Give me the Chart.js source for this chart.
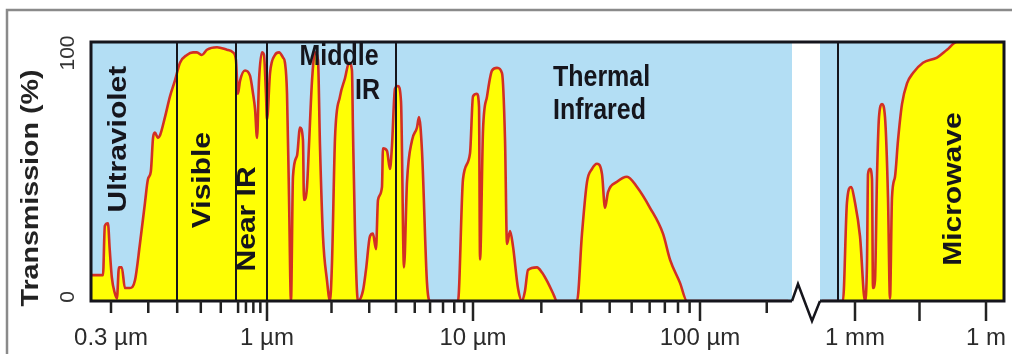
<!DOCTYPE html>
<html><head><meta charset="utf-8">
<script src="https://cdn.jsdelivr.net/npm/chart.js@4.4.1/dist/chart.umd.min.js"></script>
<style>html,body{margin:0;padding:0;background:#fff;}canvas{display:block;}</style>
</head><body>
<canvas id="c" width="1012" height="354"></canvas>
<script>
// ---------- data (wavelength in µm, transmission in %) ----------
const WAVELENGTH_UM = [
  0.257,0.282,0.286,0.293,0.297,0.302,0.309,0.314,0.319,0.326,0.334,0.347,0.361,0.375,0.390,0.399,0.408,0.415,0.421,0.431,
  0.438,0.455,0.473,0.491,0.511,0.539,0.565,0.582,0.605,0.629,0.680,0.734,0.769,0.787,0.799,0.812,0.844,0.877,0.898,0.912,
  0.926,0.940,0.962,0.977,0.992,1.000,1.033,1.090,1.138,1.188,1.213,1.240,1.267,1.294,1.322,1.380,1.426,1.472,1.488,1.537,
  1.570,1.622,1.675,1.730,1.767,1.825,1.905,1.968,2.011,2.077,2.191,2.312,2.414,2.492,2.519,2.574,2.658,2.805,2.897,3.024,
  3.123,3.226,3.296,3.440,3.478,3.631,3.750,3.831,3.956,4.098,4.246,4.399,4.559,4.838,5.135,5.258,5.449,5.784,5.995,8.364,
  8.878,9.650,10.0,10.41,10.63,10.74,11.07,11.53,12.13,12.76,13.42,13.84,14.12,14.56,15.01,15.78,16.44,16.95,17.47,19.13,
  20.14,21.40,22.51,23.44,28.72,30.21,31.79,33.44,35.18,37.01,38.15,39.33,43.09,47.70,52.78,60.22,68.71,73.77,81.64,87.64,
  250,300,
  441,742,819,904,1000,1302,1694,1883,1985,2206,2451,2584,2871,3190,3544,4153,4864,5697,6330,7036,
  8241,9654,11920,15520,21290,36070,75500,127900,216600,2580000
];
const TRANSMISSION_PCT = [
  10,10,29,30,20,9,3,1,13,13,5,5,8,22,38,47,50,63,65,63,
  64,71,79,85,92,95,96,96,95,97,98,97,96,93,80,85,89,87,80,74,
  63,85,96,95,80,70,88,95,96,94,92,80,40,0,48,56,67,62,39,44,
  60,85,96,93,60,25,8,0,15,63,79,86,92,89,66,27,0,4,12,25,
  26,20,39,44,59,58,51,60,82,83,77,13,46,62,67,71,58,7,0,0,
  47,57,79,80,75,16,66,79,89,90,88,62,22,27,21,5,0,4,12,13,
  11,7,3,0,0,26,46,51,53,49,36,42,46,48,44,36,26,16,7,0,
  0,null,
  0,0,38,44,38,25,0,15,49,51,47,5,8,48,71,76,71,40,1,40,
  48,62,76,84,88,92,94,97,100,100
];

// spectral bands
const BAND_EDGES_UM = [0.5, 0.787, 1, 4, 650];
const BAND_LABELS = ['Ultraviolet', 'Visible', 'Near IR', 'Middle', 'IR', 'Thermal', 'Infrared', 'Microwave'];
const BAND_LABEL_AT_UM = [0.319, 0.610, 0.863, 2.17, 3.37, 22.5, 22.5, 185000];
const BAND_LABEL_AT_PCT = [62.5, 46.7, 31.7, 94.2, 81, 86.1, 73.4, 43.2];

// axis ticks
const X_TICK_UM = [0.3, 1, 10, 100, 1000, 1e6];
const X_TICK_LABELS = ['0.3 µm', '1 µm', '10 µm', '100 µm', '1 mm', '1 m'];
const X_LONG_TICK_UM = [1, 10, 100, 1000, 30000, 1e6];
const X_SHORT_TICK_UM = [0.3, 0.4, 0.5, 0.6, 0.7, 0.8, 0.85, 0.9, 0.95, 2, 3, 4, 5, 6, 7, 8, 9,
                         20, 30, 40, 50, 60, 70, 80, 90, 200];
const Y_TICKS = [0, 100];
const Y_TICK_LABELS = ['0', '100'];

// ---------- broken, hand-stretched log axis (scale definition) ----------
const AXIS_ANCHOR_UM  = [0.257, 0.3, 1, 4, 10, 100, 260, 420, 1000, 1e6, 2.58e6];
const AXIS_ANCHOR_POS = [0, 20, 176, 305, 382, 609, 701, 729, 764, 895, 913];
const AXIS_BREAK_UM = [260, 420];
function axisPos(um) {
  const l = Math.log10(um);
  const L = AXIS_ANCHOR_UM.map(Math.log10);
  let i = 0;
  while (i < L.length - 2 && l > L[i + 1]) i++;
  const t = (l - L[i]) / (L[i + 1] - L[i]);
  return AXIS_ANCHOR_POS[i] + t * (AXIS_ANCHOR_POS[i + 1] - AXIS_ANCHOR_POS[i]);
}

const BLUE = '#b3def4', YELLOW = '#ffff05', RED = '#d22f25', INK = '#15151c';
const FONT = "'Liberation Sans', Arial, sans-serif";

const points = WAVELENGTH_UM.map((w, i) => ({ x: axisPos(w), y: TRANSMISSION_PCT[i] }));

function drawText(ctx, text, x, y, opt) {
  ctx.save();
  ctx.translate(x, y);
  if (opt.rotate) ctx.rotate(-Math.PI / 2);
  ctx.font = opt.font;
  let sx = opt.sx || 1, sy = opt.sy || 1;
  if (opt.fitLength) sx = opt.fitLength / ctx.measureText(text).width;
  ctx.scale(sx, sy);
  ctx.fillStyle = opt.color || INK;
  ctx.textAlign = opt.align || 'center';
  ctx.textBaseline = 'middle';
  ctx.fillText(text, 0, 0);
  ctx.restore();
}

const spectrumPlugin = {
  id: 'spectrum',
  beforeDatasetsDraw(chart) {
    const { ctx, chartArea: a, scales: { x } } = chart;
    ctx.save();
    ctx.fillStyle = BLUE;
    ctx.fillRect(a.left, a.top, a.right - a.left, a.bottom - a.top);
    const g0 = x.getPixelForValue(axisPos(AXIS_BREAK_UM[0]));
    const g1 = x.getPixelForValue(axisPos(AXIS_BREAK_UM[1]));
    ctx.fillStyle = '#ffffff';
    ctx.fillRect(g0, a.top, g1 - g0, a.bottom - a.top);
    ctx.restore();
  },
  afterDatasetsDraw(chart) {
    const { ctx, chartArea: a, scales: { x, y } } = chart;
    ctx.save();
    // band edges
    ctx.strokeStyle = INK; ctx.lineWidth = 2;
    BAND_EDGES_UM.forEach(w => {
      const px = Math.round(x.getPixelForValue(axisPos(w)));
      ctx.beginPath(); ctx.moveTo(px, a.top); ctx.lineTo(px, a.bottom); ctx.stroke();
    });
    // frame with axis break
    const g0 = x.getPixelForValue(axisPos(AXIS_BREAK_UM[0]));
    const g1 = x.getPixelForValue(axisPos(AXIS_BREAK_UM[1]));
    ctx.lineWidth = 3; ctx.lineJoin = 'miter';
    ctx.beginPath();
    ctx.moveTo(g0, a.bottom); ctx.lineTo(a.left, a.bottom); ctx.lineTo(a.left, a.top);
    ctx.lineTo(a.right, a.top); ctx.lineTo(a.right, a.bottom); ctx.lineTo(g1, a.bottom);
    ctx.stroke();
    ctx.lineWidth = 2.5;
    ctx.beginPath();
    ctx.moveTo(g0, a.bottom); ctx.lineTo(g0 + 6, a.bottom - 17);
    ctx.lineTo(g0 + 20, a.bottom + 20); ctx.lineTo(g1, a.bottom);
    ctx.stroke();
    // tick marks
    ctx.lineWidth = 2.5; ctx.strokeStyle = '#222';
    const tick = (w, len) => {
      const px = x.getPixelForValue(axisPos(w));
      ctx.beginPath(); ctx.moveTo(px, a.bottom); ctx.lineTo(px, a.bottom + len); ctx.stroke();
    };
    X_SHORT_TICK_UM.forEach(w => tick(w, 12));
    X_LONG_TICK_UM.forEach(w => tick(w, 20));
    // band labels
    BAND_LABELS.forEach((t, i) => {
      const px = x.getPixelForValue(axisPos(BAND_LABEL_AT_UM[i]));
      const py = y.getPixelForValue(BAND_LABEL_AT_PCT[i]);
      const vertical = ['Ultraviolet', 'Visible', 'Near IR', 'Microwave'].includes(t);
      const align = t === 'IR' ? 'right' : (t === 'Thermal' || t === 'Infrared') ? 'left' : 'center';
      drawText(ctx, t, px, py, vertical
        ? { rotate: true, font: 'bold 25px ' + FONT, sx: 1.2, align }
        : { font: 'bold 25px ' + FONT, sy: 1.2, align });
    });
    ctx.restore();
  },
  afterDraw(chart) {
    const { ctx, scales: { y } } = chart;
    ctx.save();
    // y tick labels (rotated)
    Y_TICKS.forEach((v, i) => {
      const py = y.getPixelForValue(v) + (v === 100 ? 11 : -4);
      drawText(ctx, Y_TICK_LABELS[i], 68, py, { rotate: true, font: '21px ' + FONT, color: '#333' });
    });
    // y title
    drawText(ctx, 'Transmission (%)', 32, 188, { rotate: true, font: 'bold 23px ' + FONT, fitLength: 237, color: '#222' });
    // outer picture border
    ctx.strokeStyle = '#8a8a8a'; ctx.lineWidth = 2.5;
    ctx.beginPath(); ctx.moveTo(7, 360); ctx.lineTo(7, 10); ctx.lineTo(1020, 10); ctx.stroke();
    ctx.restore();
  }
};

new Chart(document.getElementById('c').getContext('2d'), {
  type: 'line',
  data: {
    datasets: [{
      data: points,
      borderColor: RED,
      backgroundColor: YELLOW,
      borderWidth: 2.6,
      fill: 'origin',
      pointRadius: 0,
      cubicInterpolationMode: 'monotone',
      spanGaps: false
    }]
  },
  options: {
    responsive: false,
    animation: false,
    devicePixelRatio: 1,
    layout: { padding: { left: 91, right: 8, top: 42, bottom: 0 } },
    plugins: { legend: { display: false }, tooltip: { enabled: false } },
    scales: {
      x: {
        type: 'linear',
        min: axisPos(0.257),
        max: axisPos(2.58e6),
        grid: { display: false, drawTicks: false },
        border: { display: false },
        afterBuildTicks: s => { s.ticks = X_TICK_UM.map(w => ({ value: axisPos(w) })); },
        afterFit: s => { s.height = 53; s.paddingLeft = 0; s.paddingRight = 0; },
        ticks: {
          autoSkip: false, maxRotation: 0, minRotation: 0, padding: 23,
          color: '#2b2b2b', font: { family: FONT, size: 24 },
          callback: (v, i) => X_TICK_LABELS[i]
        }
      },
      y: { display: false, min: 0, max: 100 }
    }
  },
  plugins: [spectrumPlugin]
});
</script>
</body></html>
